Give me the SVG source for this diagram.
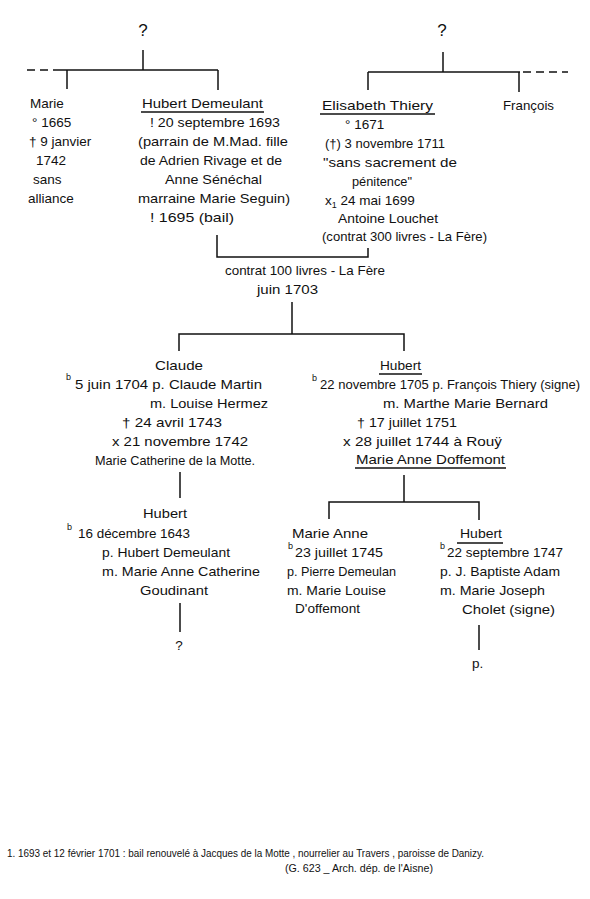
<svg xmlns="http://www.w3.org/2000/svg" width="590" height="899" viewBox="0 0 590 899">
<style>
text{font-family:"Liberation Sans","DejaVu Sans",sans-serif;font-size:13.5px;fill:#111}
.s{font-size:9px}
.f{font-size:10px}
.q{font-size:17px}
line,polyline{stroke:#111;stroke-width:1.5;fill:none}
.d{stroke-dasharray:8 5}
</style>
<rect width="590" height="899" fill="#fff"/>
<g id="connectors">
<line x1="143" y1="50" x2="143" y2="70"/>
<line x1="27" y1="70" x2="55" y2="70" class="d"/>
<line x1="55" y1="70" x2="218" y2="70"/>
<line x1="67" y1="70" x2="67" y2="89"/>
<line x1="218" y1="70" x2="218" y2="90"/>
<line x1="443" y1="52" x2="443" y2="72"/>
<line x1="368" y1="72" x2="520" y2="72"/>
<line x1="523" y1="72" x2="568" y2="72" class="d"/>
<line x1="368" y1="72" x2="368" y2="90"/>
<line x1="519" y1="72" x2="519" y2="92"/>
<polyline points="217,235 217,257 368,257 368,248"/>
<line x1="292" y1="302" x2="292" y2="334"/>
<polyline points="179,351 179,334 404,334 404,351"/>
<line x1="180" y1="472" x2="180" y2="498"/>
<line x1="404" y1="475" x2="404" y2="502"/>
<polyline points="329,519 329,502 479,502 479,520"/>
<line x1="180" y1="603" x2="180" y2="632"/>
<line x1="479" y1="625" x2="479" y2="650"/>
</g>
<g id="q1"><text class="q" x="143" y="36" text-anchor="middle">?</text></g>
<g id="q2"><text class="q" x="442" y="36" text-anchor="middle">?</text></g>
<g id="marie">
<text x="30" y="108">Marie</text>
<text x="32" y="127">° 1665</text>
<text x="29" y="146">† 9 janvier</text>
<text x="36" y="165">1742</text>
<text x="33" y="184">sans</text>
<text x="28" y="203">alliance</text>
</g>
<g id="hubert-demeulant">
<text x="142" y="108" textLength="121" lengthAdjust="spacingAndGlyphs">Hubert Demeulant</text>
<line x1="141" y1="112" x2="264" y2="112"/>
<text x="150" y="127" textLength="130" lengthAdjust="spacingAndGlyphs">! 20 septembre 1693</text>
<text x="138" y="146" textLength="150" lengthAdjust="spacingAndGlyphs">(parrain de M.Mad. fille</text>
<text x="140" y="165" textLength="142" lengthAdjust="spacingAndGlyphs">de Adrien Rivage et de</text>
<text x="165" y="184" textLength="97" lengthAdjust="spacingAndGlyphs">Anne Sénéchal</text>
<text x="138" y="203" textLength="152" lengthAdjust="spacingAndGlyphs">marraine Marie Seguin)</text>
<text x="150" y="222" textLength="84" lengthAdjust="spacingAndGlyphs">! 1695 (bail)</text>
</g>
<g id="elisabeth">
<text x="322" y="110" textLength="111" lengthAdjust="spacingAndGlyphs">Elisabeth Thiery</text>
<line x1="320" y1="114" x2="435" y2="114"/>
<text x="345" y="129">° 1671</text>
<text x="325" y="148" textLength="120" lengthAdjust="spacingAndGlyphs">(†) 3 novembre 1711</text>
<text x="323" y="167" textLength="134" lengthAdjust="spacingAndGlyphs">"sans sacrement de</text>
<text x="352" y="186" textLength="60" lengthAdjust="spacingAndGlyphs">pénitence"</text>
<text x="325" y="205">x<tspan class="s" dy="3">1</tspan><tspan dy="-3"> 24 mai 1699</tspan></text>
<text x="338" y="223" textLength="100" lengthAdjust="spacingAndGlyphs">Antoine Louchet</text>
<text x="322" y="241" textLength="165" lengthAdjust="spacingAndGlyphs">(contrat 300 livres - La Fère)</text>
</g>
<g id="francois"><text x="503" y="110" textLength="51" lengthAdjust="spacingAndGlyphs">François</text></g>
<g id="mariage">
<text x="225" y="275" textLength="160" lengthAdjust="spacingAndGlyphs">contrat 100 livres - La Fère</text>
<text x="257" y="294" textLength="61" lengthAdjust="spacingAndGlyphs">juin 1703</text>
</g>
<g id="claude">
<text x="155" y="370" textLength="48" lengthAdjust="spacingAndGlyphs">Claude</text>
<text class="s" x="66" y="380">b</text>
<text x="75" y="389" textLength="187" lengthAdjust="spacingAndGlyphs">5 juin 1704  p. Claude Martin</text>
<text x="150" y="408" textLength="118" lengthAdjust="spacingAndGlyphs">m. Louise Hermez</text>
<text x="122" y="427" textLength="100" lengthAdjust="spacingAndGlyphs">† 24 avril 1743</text>
<text x="112" y="446" textLength="136" lengthAdjust="spacingAndGlyphs">x 21 novembre 1742</text>
<text x="95" y="465" textLength="160" lengthAdjust="spacingAndGlyphs">Marie Catherine de la Motte.</text>
</g>
<g id="hubert-1705">
<text x="380" y="370" textLength="41" lengthAdjust="spacingAndGlyphs">Hubert</text>
<line x1="379" y1="374" x2="422" y2="374"/>
<text class="s" x="312" y="381">b</text>
<text x="320" y="389" textLength="260" lengthAdjust="spacingAndGlyphs">22 novembre 1705  p. François Thiery (signe)</text>
<text x="383" y="408" textLength="165" lengthAdjust="spacingAndGlyphs">m. Marthe Marie Bernard</text>
<text x="357" y="427" textLength="100" lengthAdjust="spacingAndGlyphs">† 17 juillet 1751</text>
<text x="343" y="446" textLength="159" lengthAdjust="spacingAndGlyphs">x 28 juillet 1744 à Rouÿ</text>
<text x="356" y="464" textLength="149" lengthAdjust="spacingAndGlyphs">Marie Anne Doffemont</text>
<line x1="355" y1="468" x2="506" y2="468"/>
</g>
<g id="hubert-claude">
<text x="143" y="518" textLength="44" lengthAdjust="spacingAndGlyphs">Hubert</text>
<text class="s" x="67" y="530">b</text>
<text x="78" y="538" textLength="112" lengthAdjust="spacingAndGlyphs">16 décembre 1643</text>
<text x="102" y="557" textLength="128" lengthAdjust="spacingAndGlyphs">p. Hubert Demeulant</text>
<text x="102" y="576" textLength="158" lengthAdjust="spacingAndGlyphs">m. Marie Anne Catherine</text>
<text x="140" y="595" textLength="68" lengthAdjust="spacingAndGlyphs">Goudinant</text>
</g>
<g id="q3"><text x="179" y="650" text-anchor="middle">?</text></g>
<g id="marie-anne">
<text x="292" y="538" textLength="76" lengthAdjust="spacingAndGlyphs">Marie Anne</text>
<text class="s" x="288" y="549">b</text>
<text x="295" y="557" textLength="88" lengthAdjust="spacingAndGlyphs">23 juillet 1745</text>
<text x="287" y="576" textLength="109" lengthAdjust="spacingAndGlyphs">p. Pierre Demeulan</text>
<text x="287" y="595" textLength="99" lengthAdjust="spacingAndGlyphs">m. Marie Louise</text>
<text x="295" y="613" textLength="65" lengthAdjust="spacingAndGlyphs">D'offemont</text>
</g>
<g id="hubert-1747">
<text x="460" y="538" textLength="42" lengthAdjust="spacingAndGlyphs">Hubert</text>
<line x1="457" y1="543" x2="503" y2="543"/>
<text class="s" x="440" y="549">b</text>
<text x="447" y="557" textLength="116" lengthAdjust="spacingAndGlyphs">22 septembre 1747</text>
<text x="440" y="576" textLength="120" lengthAdjust="spacingAndGlyphs">p. J. Baptiste Adam</text>
<text x="440" y="595" textLength="105" lengthAdjust="spacingAndGlyphs">m. Marie Joseph</text>
<text x="462" y="614" textLength="93" lengthAdjust="spacingAndGlyphs">Cholet (signe)</text>
</g>
<g id="p"><text x="472" y="668">p.</text></g>
<g id="footnote">
<text class="f" x="7" y="857" textLength="477" lengthAdjust="spacingAndGlyphs">1. 1693 et 12 février 1701 : bail renouvelé à Jacques de la Motte , nourrelier au Travers , paroisse de Danizy.</text>
<text class="f" x="285" y="872" textLength="148" lengthAdjust="spacingAndGlyphs">(G. 623 _ Arch. dép. de l'Aisne)</text>
</g>
</svg>
